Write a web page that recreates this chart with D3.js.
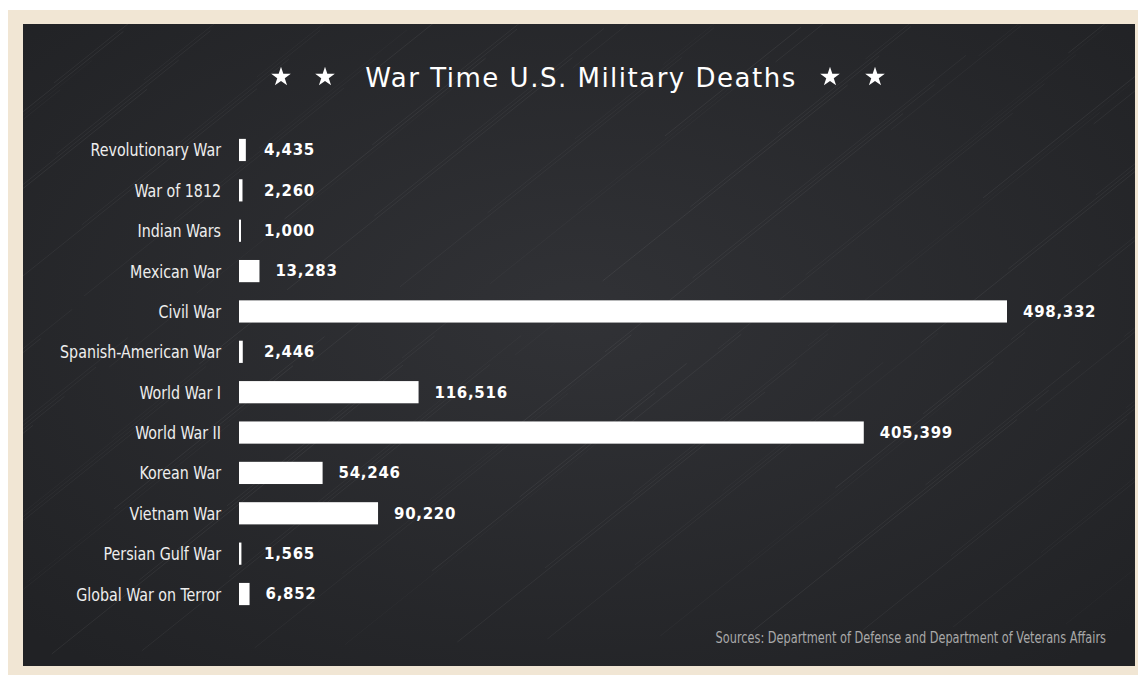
<!DOCTYPE html>
<html>
<head>
<meta charset="utf-8">
<script src="https://cdn.jsdelivr.net/npm/d3@7"></script>
<style>
  html, body { margin: 0; padding: 0; background: #ffffff; }
  svg { display: block; }
</style>
</head>
<body>
<svg id="chart" width="1138" height="675"></svg>
<script>
const categories = ["Revolutionary War", "War of 1812", "Indian Wars", "Mexican War", "Civil War",
  "Spanish-American War", "World War I", "World War II", "Korean War", "Vietnam War",
  "Persian Gulf War", "Global War on Terror"];
const deaths = [4435, 2260, 1000, 13283, 498332, 2446, 116516, 405399, 54246, 90220, 1565, 6852];
const titleText = "War Time U.S. Military Deaths";
const sourceText = "Sources: Department of Defense and Department of Veterans Affairs";

const svg = d3.select("#chart");
const W = 1138, H = 675;

// frame
svg.append("rect").attr("x", 8).attr("y", 10).attr("width", W - 8).attr("height", H - 10).attr("fill", "#f1e6d4");

const defs = svg.append("defs");
const grad = defs.append("radialGradient").attr("id", "board").attr("cx", "50%").attr("cy", "45%").attr("r", "70%");
grad.append("stop").attr("offset", "0%").attr("stop-color", "#313236");
grad.append("stop").attr("offset", "100%").attr("stop-color", "#212225");

const bx = 23, by = 24, bw = 1135 - 23, bh = 666 - 24;
svg.append("rect").attr("x", bx).attr("y", by).attr("width", bw).attr("height", bh).attr("fill", "url(#board)");

// chalk texture: faint diagonal streaks
defs.append("clipPath").attr("id", "clipB").append("rect").attr("x", bx).attr("y", by).attr("width", bw).attr("height", bh);
const tex = svg.append("g").attr("clip-path", "url(#clipB)");
const streaks = [];
for (let i = 0; i < 160; i++) {
  const t = i / 160;
  streaks.push({x: bx - 400 + t * (bw + 700) + ((i * 37) % 23), len: 60 + ((i * 53) % 240), y: by + ((i * 71) % bh), o: 0.025 + ((i * 13) % 7) / 160});
}
tex.selectAll("line").data(streaks).join("line")
  .attr("x1", d => d.x).attr("y1", d => d.y)
  .attr("x2", d => d.x + d.len).attr("y2", d => d.y - d.len * 0.8)
  .attr("stroke", "#ffffff").attr("stroke-opacity", d => d.o).attr("stroke-width", 1);

// scales
const x = d3.scaleLinear().domain([0, 498332]).range([239, 1007]);
const y = d3.scaleBand().domain(categories).range([130, 614]).paddingInner(0.45).paddingOuter(0.22);

// title
svg.append("text").attr("x", 581).attr("y", 87).attr("text-anchor", "middle")
  .attr("fill", "#ffffff").attr("font-family", "'DejaVu Sans', sans-serif")
  .attr("font-size", 26).attr("letter-spacing", 1.5).text(titleText);
const star = d3.symbol().type(d3.symbolStar).size(120);
[281, 325, 830, 875].forEach(cx => {
  svg.append("path").attr("d", star()).attr("transform", `translate(${cx},77)`).attr("fill", "#ffffff");
});

// category labels (condensed)
svg.append("g").selectAll("text").data(categories).join("text")
  .attr("transform", d => `translate(221,${y(d) + y.bandwidth() / 2}) scale(0.88,1)`)
  .attr("dy", "0.36em").attr("text-anchor", "end")
  .attr("fill", "#eeeeee")
  .attr("font-family", "'DejaVu Sans Condensed', 'DejaVu Sans', sans-serif")
  .attr("font-size", 18)
  .text(d => d);

const data = categories.map((c, i) => ({c, v: deaths[i]}));

// bars
svg.append("g").selectAll("rect").data(data).join("rect")
  .attr("x", x(0)).attr("y", d => y(d.c))
  .attr("width", d => Math.max(2, x(d.v) - x(0)))
  .attr("height", y.bandwidth())
  .attr("fill", "#ffffff");

// value labels
const fmt = d3.format(",");
svg.append("g").selectAll("text").data(data).join("text")
  .attr("x", d => Math.max(x(d.v) + 16, 264))
  .attr("y", d => y(d.c) + y.bandwidth() / 2)
  .attr("dy", "0.36em")
  .attr("fill", "#ffffff")
  .attr("font-family", "'DejaVu Sans', sans-serif")
  .attr("font-weight", 700).attr("font-size", 15).attr("letter-spacing", 0.7)
  .text(d => fmt(d.v));

// source
svg.append("text").attr("transform", "translate(1106,643) scale(0.84,1)").attr("text-anchor", "end")
  .attr("fill", "#a9a9a9")
  .attr("font-family", "'DejaVu Sans Condensed', 'DejaVu Sans', sans-serif")
  .attr("font-size", 15).text(sourceText);
</script>
</body>
</html>
